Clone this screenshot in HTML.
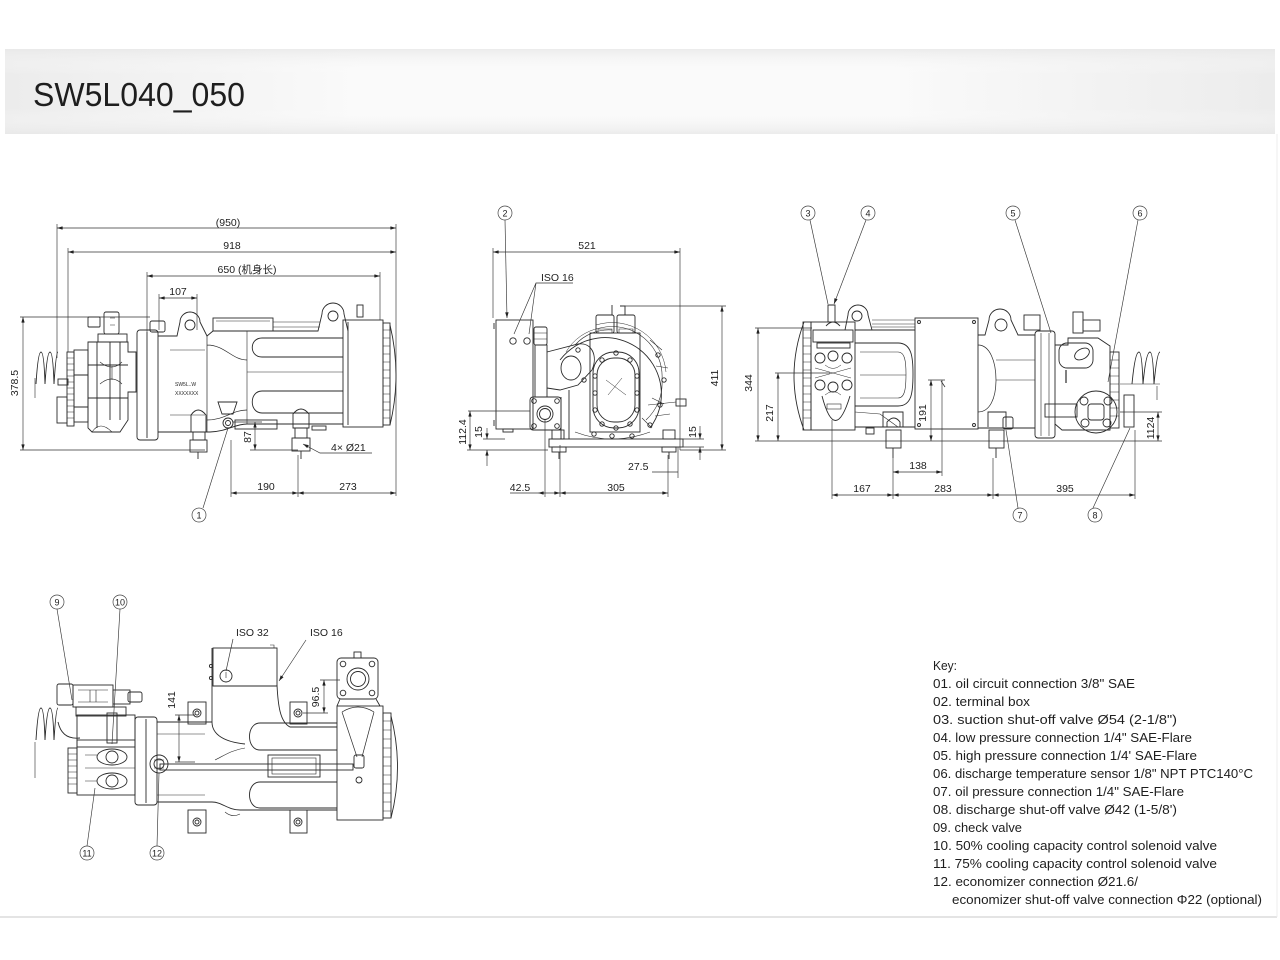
<!DOCTYPE html>
<html><head><meta charset="utf-8">
<style>
html,body{margin:0;padding:0;background:#fff;}
body{width:1280px;height:960px;overflow:hidden;}
svg{display:block;}
.t{font-family:"Liberation Sans","Noto Sans CJK SC",sans-serif;fill:#1e1e1e;}
</style></head>
<body>
<svg width="1280" height="960" viewBox="0 0 1280 960" xmlns="http://www.w3.org/2000/svg">
<defs>
<linearGradient id="hg" x1="0" x2="1" y1="0" y2="0">
<stop offset="0" stop-color="#ececec"/><stop offset="0.28" stop-color="#fafafa"/><stop offset="0.7" stop-color="#fafafa"/><stop offset="1" stop-color="#ececec"/>
</linearGradient>
<linearGradient id="hv" x1="0" x2="0" y1="0" y2="1">
<stop offset="0" stop-color="#e8e8e8" stop-opacity="0.8"/><stop offset="0.3" stop-color="#fff" stop-opacity="0"/><stop offset="0.7" stop-color="#fff" stop-opacity="0"/><stop offset="1" stop-color="#e8e8e8" stop-opacity="0.8"/>
</linearGradient>
<marker id="ar" viewBox="0 0 10 6" refX="10" refY="3" markerWidth="6" markerHeight="3.4" markerUnits="userSpaceOnUse" orient="auto-start-reverse"><path d="M0,0L10,3L0,6z" fill="#222"/></marker>
</defs>

<!-- header -->
<rect x="5" y="49" width="1270" height="85" fill="url(#hg)"/>
<rect x="5" y="49" width="1270" height="85" fill="url(#hv)"/>
<text x="33" y="106" class="t" font-size="33" textLength="212" lengthAdjust="spacingAndGlyphs" fill="#111">SW5L040_050</text>

<!-- page frame -->
<line x1="0" y1="917" x2="1277" y2="917" stroke="#dcdcdc" stroke-width="1.5"/>
<line x1="1277" y1="134" x2="1277" y2="917" stroke="#ececec" stroke-width="1"/>

<!-- ================= LEFT VIEW ================= -->
<g fill="none" stroke="#2a2a2a" stroke-width="0.9">
 <path d="M36,384 Q38,352 41,352 Q44,352 45,384 Q47,352 50,352 Q53,352 54,384 Q56,352 58,352"/>
 <path d="M35,378 V398" stroke-width="0.6"/>
 <rect x="57" y="397" width="10" height="26"/>
 <rect x="58" y="379" width="10" height="6"/>
 <rect x="67" y="352" width="7" height="74"/>
 <path d="M67,358h7M67,364h7M67,370h7M67,376h7M67,382h7M67,388h7M67,394h7M67,400h7M67,406h7M67,412h7M67,418h7" stroke-width="0.6"/>
 <rect x="74" y="350" width="14" height="72"/>
 <path d="M74,375h14M74,407h14"/>
 <path d="M88,342 H128 V352 H136 V392 H128 V420 L120,432 H92 L88,428 Z"/>
 <path d="M97,342V428 M110,342V420 M120,342V420 M88,365H128 M88,398H128"/>
 <path d="M100,362 Q112,372 122,362 M100,384 Q112,374 122,384 M112,366 V380" stroke-width="0.6"/>
 <path d="M92,432 Q100,420 112,432" stroke-width="0.6"/>
 <rect x="88" y="317" width="12" height="10" rx="1"/>
 <rect x="104" y="312" width="15" height="22" rx="2"/>
 <rect x="98" y="334" width="29" height="8"/>
 <path d="M110,318h5M110,325h5" stroke-width="0.6"/>
 <rect x="137" y="330" width="21" height="110" rx="3"/>
 <path d="M147,332V438"/>
 <rect x="150" y="321" width="15" height="11" rx="2"/>
 <path d="M158,336 H177 L180,322 A10,10 0 0 1 200,322 L207,336 L213,331 H318 L322,314 A11,11 0 0 1 344,314 L348,331 V331"/>
 <circle cx="190" cy="325" r="5"/>
 <circle cx="333" cy="316" r="5"/>
 <rect x="357" y="305" width="6" height="12"/>
 <rect x="213" y="318" width="60" height="13"/>
 <path d="M273,322H320 M273,327H320 M216,321H270" stroke-width="0.6"/>
 <path d="M158,432 H210 C225,432 235,424 247,424 H343"/>
 <path d="M207,345 C225,345 232,360 247,360 M207,420 C225,420 232,410 247,410 M207,336 V432" stroke-width="0.7"/>
 <path d="M343,338 H262 C249,338 249,357 262,357 H343"/>
 <path d="M343,391 H262 C249,391 249,413 262,413 H343"/>
 <path d="M247,372 H343 M247,331 V424" stroke-width="0.6"/>
 <path d="M170,350 H205 M170,415 H205" stroke-width="0.5"/>
 <rect x="343" y="320" width="40" height="107"/>
 <path d="M348,322V425"/>
 <rect x="383" y="323" width="7" height="102"/>
 <path d="M383,330h7M383,338h7M383,346h7M383,354h7M383,362h7M383,370h7M383,378h7M383,386h7M383,394h7M383,402h7M383,410h7M383,418h7" stroke-width="0.6"/>
 <path d="M390,325 Q402,375 390,425"/>
 <path d="M191,432 V415 Q198,405 206,415 V432 Z"/>
 <rect x="193" y="432" width="12" height="8"/><rect x="190" y="440" width="17" height="12"/>
 <path d="M198,452V459"/>
 <path d="M293,428 V414 Q301,404 309,414 V428 Z"/>
 <rect x="295" y="428" width="12" height="10"/><rect x="292" y="438" width="18" height="13"/>
 <path d="M301,451V459"/>
 <path d="M218,402 L237,402 L233,414 L222,414 Z"/>
 <circle cx="228" cy="423" r="5"/><circle cx="228" cy="423" r="2.5"/>
 <rect x="235" y="420" width="42" height="9"/>
 <rect x="312" y="426" width="14" height="4"/>
</g>
<text x="175" y="386" class="t" font-size="5">SW5L..W</text>
<text x="175" y="395" class="t" font-size="5">XXXXXXX</text>

<g fill="none" stroke="#333" stroke-width="0.65">
 <line x1="57" y1="228" x2="396" y2="228" marker-start="url(#ar)" marker-end="url(#ar)"/>
 <line x1="68" y1="252" x2="396" y2="252" marker-start="url(#ar)" marker-end="url(#ar)"/>
 <line x1="147" y1="276" x2="380" y2="276" marker-start="url(#ar)" marker-end="url(#ar)"/>
 <line x1="159" y1="298" x2="197" y2="298" marker-start="url(#ar)" marker-end="url(#ar)"/>
 <path d="M57,224V358 M68,248V352 M396,224V496 M380,272V320 M147,272V332 M159,294V330 M197,294V330"/>
 <line x1="23" y1="317" x2="23" y2="450" marker-start="url(#ar)" marker-end="url(#ar)"/>
 <path d="M20,317H150 M20,450H205"/>
 <line x1="255" y1="422" x2="255" y2="450" marker-start="url(#ar)" marker-end="url(#ar)"/>
 <path d="M233,422H262 M250,450H298"/>
 <path d="M303,444 L320,453 H372" marker-start="url(#ar)"/>
 <line x1="231" y1="493" x2="298" y2="493" marker-start="url(#ar)" marker-end="url(#ar)"/>
 <line x1="298" y1="493" x2="396" y2="493" marker-start="url(#ar)" marker-end="url(#ar)"/>
 <path d="M231,440V497 M298,455V497"/>
 <path d="M203,508 L228,428"/>
</g>
<g class="t" font-size="10.5" text-anchor="middle">
 <text x="228" y="226">(950)</text>
 <text x="232" y="249">918</text>
 <text x="247" y="273">650 (机身长)</text>
 <text x="178" y="295">107</text>
 <text transform="translate(18,383) rotate(-90)">378.5</text>
 <text transform="translate(251,437) rotate(-90)">87</text>
 <text x="266" y="490">190</text>
 <text x="348" y="490">273</text>
 <text x="331" y="451" text-anchor="start">4× Ø21</text>
</g>

<!-- ================= MIDDLE VIEW ================= -->
<g fill="none" stroke="#2a2a2a" stroke-width="0.9">
 <path d="M560,360 A56,56 0 1 1 650,428"/>
 <path d="M600,328 A50,50 0 0 1 662,380 A50,50 0 0 1 646,420" stroke-width="0.6"/>
 <path d="M596,325 A54,54 0 0 1 666,372" stroke-width="0.5"/>
 <path d="M575,345 A45,45 0 0 1 612,330" stroke-width="0.6"/>
 <path d="M566,352 A50,50 0 0 1 600,328" stroke-width="0.5"/>
 <path d="M650,340 L662,350 M656,366 L668,368 M652,398 L664,404 M642,418 L652,428" stroke-width="0.6"/>
 <circle cx="658" cy="355" r="2.2"/><circle cx="664" cy="380" r="2.2"/><circle cx="660" cy="405" r="2.2"/><circle cx="650" cy="425" r="2.2"/><circle cx="632" cy="436" r="2.2"/>
 <circle cx="612" cy="436" r="2.2"/><circle cx="594" cy="434" r="2.2"/>
 <rect x="496" y="320" width="37" height="109"/>
 <path d="M494,323v6M494,420v6"/>
 <circle cx="513" cy="341" r="3.2"/><circle cx="527" cy="341" r="3.2"/>
 <rect x="503" y="429" width="10" height="3"/>
 <rect x="534" y="327" width="13" height="18" rx="2"/>
 <path d="M534,333h13M534,339h13" stroke-width="0.6"/>
 <rect x="535" y="345" width="12" height="52"/>
 <path d="M547,352 L578,344 C592,342 598,356 592,370 L578,385 L560,390 L547,388"/>
 <ellipse cx="571" cy="368" rx="10" ry="12"/>
 <circle cx="578" cy="350" r="2.2"/><circle cx="584" cy="380" r="2.2"/>
 <rect x="530" y="397" width="31" height="33" rx="3"/>
 <circle cx="545" cy="414" r="8"/><circle cx="545" cy="414" r="5.5"/>
 <circle cx="534" cy="401" r="2.3"/><circle cx="557" cy="401" r="2.3"/><circle cx="534" cy="426" r="2.3"/><circle cx="557" cy="426" r="2.3"/>
 <path d="M561,397 V439 M569,390 V439"/>
 <rect x="590" y="333" width="50" height="99"/>
 <rect x="593" y="352" width="46" height="76" rx="21"/>
 <rect x="597" y="358" width="38" height="64" rx="17"/>
 <circle cx="616" cy="353" r="2.2"/><circle cx="602" cy="360" r="2.2"/><circle cx="630" cy="360" r="2.2"/><circle cx="595" cy="376" r="2.2"/><circle cx="637" cy="376" r="2.2"/><circle cx="595" cy="393" r="2.2"/><circle cx="637" cy="393" r="2.2"/><circle cx="595" cy="410" r="2.2"/><circle cx="637" cy="410" r="2.2"/><circle cx="602" cy="424" r="2.2"/><circle cx="630" cy="424" r="2.2"/><circle cx="616" cy="428" r="2.2"/>
 <path d="M606,380 L626,395 M608,395 L622,378" stroke-width="0.5"/>
 <rect x="596" y="315" width="18" height="18" rx="2"/>
 <rect x="617" y="315" width="18" height="18" rx="2"/>
 <path d="M598,333v-4h14v4M619,333v-4h14v4" stroke-width="0.6"/>
 <path d="M612,315V305 M620,306h5v9"/>
 <path d="M575,432 Q612,446 650,432" stroke-width="0.6"/>
 <rect x="549" y="439" width="134" height="8"/>
 <rect x="552" y="430" width="12" height="9"/><rect x="663" y="430" width="12" height="9"/>
 <rect x="552" y="447" width="14" height="5"/><rect x="662" y="447" width="14" height="5"/>
 <path d="M559,452V459 M669,452V459"/>
 <rect x="676" y="399" width="10" height="7"/>
 <path d="M648,405 L676,402 M655,416 L670,414" stroke-width="0.6"/>
</g>
<g fill="none" stroke="#333" stroke-width="0.65">
 <line x1="493" y1="252" x2="680" y2="252" marker-start="url(#ar)" marker-end="url(#ar)"/>
 <path d="M493,248V318 M680,248V450"/>
 <path d="M505,220 L507,318" marker-end="url(#ar)"/>
 <path d="M573,283 H536 L514,334 M536,283 L529,334"/>
 <line x1="722" y1="306" x2="722" y2="450" marker-start="url(#ar)" marker-end="url(#ar)"/>
 <path d="M622,306H726 M680,450H726"/>
 <path d="M468,411H530 M467,450H548 M483,439H505"/>
 <line x1="470" y1="411" x2="470" y2="450" marker-start="url(#ar)" marker-end="url(#ar)"/>
 <path d="M487,428 L487,439" marker-end="url(#ar)"/>
 <path d="M487,466 L487,450" marker-end="url(#ar)"/>
 <path d="M700,426 L700,439" marker-end="url(#ar)"/>
 <path d="M700,460 L700,447" marker-end="url(#ar)"/>
 <path d="M683,439H704 M683,447H704"/>
 <path d="M652,472H678 M678,447V478"/>
 <line x1="538" y1="493" x2="560" y2="493" marker-start="url(#ar)" marker-end="url(#ar)"/>
 <line x1="560" y1="493" x2="668" y2="493" marker-start="url(#ar)" marker-end="url(#ar)"/>
 <path d="M510,493H538 M545,420V497 M560,445V497 M668,455V497"/>
</g>
<g class="t" font-size="10.5" text-anchor="middle">
 <text x="587" y="249">521</text>
 <text x="541" y="281" text-anchor="start">ISO 16</text>
 <text transform="translate(718,378) rotate(-90)">411</text>
 <text transform="translate(466,432) rotate(-90)">112.4</text>
 <text transform="translate(482,432) rotate(-90)">15</text>
 <text transform="translate(696,432) rotate(-90)">15</text>
 <text x="628" y="470" text-anchor="start">27.5</text>
 <text x="520" y="491">42.5</text>
 <text x="616" y="491">305</text>
</g>

<!-- ================= RIGHT VIEW ================= -->
<g fill="none" stroke="#2a2a2a" stroke-width="0.9">
 <path d="M804,322 Q784,376 804,430"/>
 <rect x="803" y="322" width="8" height="108"/>
 <path d="M803,330h8M803,338h8M803,346h8M803,354h8M803,362h8M803,370h8M803,378h8M803,386h8M803,394h8M803,402h8M803,410h8M803,418h8" stroke-width="0.6"/>
 <rect x="811" y="322" width="44" height="108"/>
 <rect x="813" y="330" width="40" height="12"/>
 <rect x="817" y="343" width="33" height="5"/>
 <circle cx="820" cy="358" r="5"/><circle cx="833" cy="356" r="5"/><circle cx="847" cy="358" r="5"/>
 <circle cx="820" cy="385" r="5"/><circle cx="833" cy="387" r="5"/><circle cx="847" cy="385" r="5"/>
 <path d="M815,368 L851,378 M815,378 L851,368 M825,365 Q833,372 841,365 M825,395 Q833,388 841,395" stroke-width="0.5"/>
 <path d="M822,396 Q835,445 850,396"/>
 <rect x="827" y="404" width="14" height="5" stroke-width="0.6"/>
 <path d="M828,305 h7 v17 h-7z"/>
 <path d="M826,326 Q833,318 840,326"/>
 <path d="M845,330 L848,315 A10,10 0 0 1 868,315 L872,330"/>
 <circle cx="857" cy="316" r="5"/>
 <path d="M855,330 H915 M855,427 H915"/>
 <path d="M872,320 H915 M872,324 H915 M872,327 H915" stroke-width="0.6"/>
 <path d="M855,343 H898 C912,343 913,358 913,374 C913,392 912,406 898,406 H855"/>
 <path d="M898,352 C905,352 906,362 906,374 C906,388 905,398 898,398" stroke-width="0.6"/>
 <path d="M860,352 H898 M860,398 H898 M860,375 H906" stroke-width="0.5"/>
 <path d="M855,412 L880,414 L898,427" stroke-width="0.6"/>
 <rect x="915" y="318" width="63" height="111"/>
 <circle cx="919" cy="322" r="1.5"/><circle cx="974" cy="322" r="1.5"/><circle cx="919" cy="425" r="1.5"/><circle cx="974" cy="425" r="1.5"/>
 <path d="M978,335 H985 L989,320 A11,11 0 0 1 1011,320 L1018,335 H1035 M978,428 H1035"/>
 <circle cx="1001" cy="325" r="6"/>
 <path d="M978,345 C990,345 996,362 996,380 C996,398 990,412 978,412" stroke-width="0.7"/>
 <path d="M996,380 H1035 M996,360 H1035" stroke-width="0.5"/>
 <rect x="1024" y="315" width="16" height="15"/>
 <rect x="1035" y="331" width="20" height="107" rx="3"/>
 <path d="M1041,333V436 M1049,333V436" stroke-width="0.6"/>
 <path d="M1055,345 H1068 V338 H1098 L1110,346 V430 H1062 L1055,424"/>
 <rect x="1073" y="312" width="10" height="21"/>
 <rect x="1083" y="320" width="17" height="11"/>
 <rect x="1059" y="343" width="34" height="25" rx="8"/>
 <ellipse cx="1082" cy="354" rx="8" ry="5" transform="rotate(-30 1082 354)"/>
 <path d="M1066,370 L1066,383" stroke-width="1.2"/>
 <circle cx="1096" cy="412" r="21"/>
 <circle cx="1084" cy="401" r="4"/><circle cx="1108" cy="401" r="4"/><circle cx="1085" cy="423" r="4"/><circle cx="1107" cy="423" r="4"/>
 <rect x="1088" y="404" width="16" height="16" rx="3"/>
 <rect x="1045" y="404" width="32" height="13"/>
 <rect x="1110" y="352" width="9" height="76"/>
 <path d="M1110,360h9M1110,368h9M1110,376h9M1110,384h9M1110,392h9M1110,400h9M1110,408h9M1110,416h9" stroke-width="0.6"/>
 <rect x="1124" y="395" width="10" height="32"/>
 <path d="M1132,384 Q1135,352 1139,352 Q1142,352 1143,384 Q1146,352 1150,352 Q1153,352 1154,384 Q1157,352 1160,352"/>
 <path d="M1120,384 H1160 M1157,386 V400" stroke-width="0.6"/>
 <path d="M883,427 V412 H903 V427"/>
 <path d="M887,427 V422 Q894,414 900,422 V427"/>
 <rect x="886" y="430" width="15" height="18"/>
 <path d="M893,448V458"/>
 <path d="M988,427 V412 H1006 V427"/>
 <rect x="989" y="430" width="15" height="18"/>
 <path d="M996,448V458"/>
 <rect x="1003" y="417" width="10" height="12" rx="2"/>
 <rect x="866" y="428" width="8" height="6"/>
</g>
<g fill="none" stroke="#333" stroke-width="0.65">
 <path d="M810,220 L828,304"/>
 <path d="M866,220 L834,304" marker-end="url(#ar)"/>
 <path d="M1015,220 L1051,333 M1138,220 L1108,382 M1018,508 L1006,430 M1093,508 L1130,428"/>
 <line x1="758" y1="328" x2="758" y2="441" marker-start="url(#ar)" marker-end="url(#ar)"/>
 <line x1="778" y1="373" x2="778" y2="441" marker-start="url(#ar)" marker-end="url(#ar)"/>
 <path d="M755,328H812 M775,373H830 M755,441H1162"/>
 <line x1="931" y1="380" x2="931" y2="441" marker-start="url(#ar)" marker-end="url(#ar)"/>
 <path d="M928,380H945 M942,380V476"/>
 <path d="M945,387 L941,381" stroke-width="0.8"/>
 <line x1="893" y1="472" x2="942" y2="472" marker-start="url(#ar)" marker-end="url(#ar)"/>
 <line x1="832" y1="495" x2="893" y2="495" marker-start="url(#ar)" marker-end="url(#ar)"/>
 <line x1="893" y1="495" x2="993" y2="495" marker-start="url(#ar)" marker-end="url(#ar)"/>
 <line x1="993" y1="495" x2="1135" y2="495" marker-start="url(#ar)" marker-end="url(#ar)"/>
 <path d="M832,420V499 M893,458V499 M993,458V499 M1135,430V499"/>
 <line x1="1158" y1="412" x2="1158" y2="441" marker-start="url(#ar)" marker-end="url(#ar)"/>
 <path d="M1120,412H1162"/>
</g>
<g class="t" font-size="10.5" text-anchor="middle">
 <text transform="translate(752,383) rotate(-90)">344</text>
 <text transform="translate(773,413) rotate(-90)">217</text>
 <text transform="translate(926,413) rotate(-90)">191</text>
 <text x="918" y="469">138</text>
 <text x="862" y="492">167</text>
 <text x="943" y="492">283</text>
 <text x="1065" y="492">395</text>
 <text transform="translate(1154,428) rotate(-90)">1124</text>
</g>

<!-- ================= BOTTOM VIEW ================= -->
<g fill="none" stroke="#2a2a2a" stroke-width="0.9">
 <path d="M36,740 Q38,708 41,708 Q44,708 45,740 Q47,708 50,708 Q53,708 54,740 Q56,708 58,708"/>
 <path d="M35,742 V778" stroke-width="0.6"/>
 <path d="M58,722 Q62,740 80,738"/>
 <rect x="57" y="684" width="16" height="21" rx="2"/>
 <rect x="73" y="685" width="40" height="22"/>
 <path d="M78,690h30M78,702h30M90,690v12M96,690v12" stroke-width="0.6"/>
 <rect x="113" y="690" width="17" height="14"/>
 <rect x="128" y="692" width="14" height="10" rx="2"/>
 <rect x="76" y="707" width="50" height="9"/>
 <rect x="77" y="715" width="58" height="32"/>
 <rect x="107" y="713" width="10" height="30"/>
 <rect x="68" y="748" width="9" height="45"/>
 <path d="M68,754h9M68,760h9M68,766h9M68,772h9M68,778h9M68,784h9" stroke-width="0.6"/>
 <rect x="77" y="740" width="58" height="55"/>
 <ellipse cx="112" cy="757" rx="15" ry="8"/><circle cx="112" cy="757" r="6"/>
 <ellipse cx="112" cy="781" rx="15" ry="8"/><circle cx="112" cy="781" r="6"/>
 <path d="M85,755 H97 M85,781 H97 M85,768 H135" stroke-width="0.6"/>
 <rect x="135" y="717" width="22" height="88" rx="3"/>
 <path d="M146,719V803"/>
 <circle cx="159" cy="764" r="9"/><circle cx="159" cy="764" r="5"/>
 <path d="M154,760h10M154,768h10" stroke-width="0.6"/>
 <path d="M157,722 H212 M157,802 H212 C222,802 228,810 240,810 H337"/>
 <path d="M212,648 V722 C212,735 225,742 245,744 M277,685 C278,705 280,722 290,727 H337"/>
 <path d="M157,734 H205 M157,795 H205" stroke-width="0.5"/>
 <path d="M215,760 C225,755 232,750 245,748" stroke-width="0.6"/>
 <path d="M337,723 H260 C246,723 246,750 260,750 H337"/>
 <path d="M337,782 H260 C246,782 246,808 260,808 H337"/>
 <rect x="160" y="764" width="193" height="6"/>
 <rect x="268" y="755" width="52" height="22"/>
 <rect x="272" y="758" width="44" height="16" stroke-width="0.6"/>
 <rect x="213" y="648" width="64" height="38"/>
 <path d="M213,686 H277"/>
 <circle cx="226" cy="676" r="6"/><path d="M226,672v6" stroke-width="0.6"/>
 <circle cx="211" cy="666" r="1.6"/><circle cx="211" cy="678" r="1.6"/>
 <path d="M270,645h4v3" stroke-width="0.6"/>
 <rect x="337" y="658" width="41" height="41" rx="4"/>
 <circle cx="358" cy="679" r="11"/><circle cx="358" cy="679" r="7.5"/>
 <circle cx="343" cy="664" r="2.8"/><circle cx="372" cy="664" r="2.8"/><circle cx="343" cy="693" r="2.8"/><circle cx="372" cy="693" r="2.8"/>
 <rect x="354" y="652" width="7" height="6"/>
 <path d="M340,699 L337,706 M376,699 L380,706"/>
 <rect x="337" y="706" width="46" height="114"/>
 <path d="M342,712 L357,757 M374,712 L362,757 M342,712 Q358,702 374,712" stroke-width="0.7"/>
 <rect x="354" y="755" width="10" height="13" rx="2"/>
 <circle cx="359" cy="780" r="3"/>
 <rect x="383" y="713" width="8" height="105"/>
 <path d="M383,721h8M383,730h8M383,739h8M383,748h8M383,757h8M383,766h8M383,775h8M383,784h8M383,793h8M383,802h8M383,811h8" stroke-width="0.6"/>
 <path d="M391,716 Q404,767 391,818"/>
 <rect x="188" y="702" width="18" height="22"/><circle cx="197" cy="713" r="4"/><circle cx="197" cy="713" r="2"/>
 <rect x="290" y="702" width="17" height="22"/><circle cx="298" cy="713" r="4"/><circle cx="298" cy="713" r="2"/>
 <rect x="188" y="810" width="18" height="23"/><circle cx="197" cy="822" r="4"/><circle cx="197" cy="822" r="2"/>
 <rect x="290" y="810" width="17" height="23"/><circle cx="298" cy="822" r="4"/><circle cx="298" cy="822" r="2"/>
 <path d="M225,812 Q232,818 240,814" stroke-width="0.6"/>
</g>
<g fill="none" stroke="#333" stroke-width="0.65">
 <path d="M57,609 L72,700 M120,609 L112,744 M87,846 L95,788 M157,846 L159,773"/>
 <path d="M233,639 L226,671"/>
 <path d="M306,640 L279,681" marker-end="url(#ar)"/>
 <line x1="179" y1="715" x2="179" y2="762" marker-start="url(#ar)" marker-end="url(#ar)"/>
 <path d="M175,715H195 M175,762H195"/>
 <line x1="324" y1="680" x2="324" y2="713" marker-start="url(#ar)" marker-end="url(#ar)"/>
 <path d="M320,680H340 M303,713H328"/>
</g>
<g class="t" font-size="10.5" text-anchor="middle">
 <text x="236" y="636" text-anchor="start">ISO 32</text>
 <text x="310" y="636" text-anchor="start">ISO 16</text>
 <text transform="translate(175,700) rotate(-90)">141</text>
 <text transform="translate(319,697) rotate(-90)">96.5</text>
</g>

<!-- balloons -->
<g fill="#fff" stroke="#444" stroke-width="0.7">
 <circle cx="199" cy="515" r="7"/><circle cx="505" cy="213" r="7"/><circle cx="808" cy="213" r="7"/><circle cx="868" cy="213" r="7"/>
 <circle cx="1013" cy="213" r="7"/><circle cx="1140" cy="213" r="7"/><circle cx="1020" cy="515" r="7"/><circle cx="1095" cy="515" r="7"/>
 <circle cx="57" cy="602" r="7"/><circle cx="120" cy="602" r="7"/><circle cx="87" cy="853" r="7"/><circle cx="157" cy="853" r="7"/>
</g>
<g class="t" font-size="9" text-anchor="middle">
 <text x="199" y="518.5">1</text><text x="505" y="216.5">2</text><text x="808" y="216.5">3</text><text x="868" y="216.5">4</text>
 <text x="1013" y="216.5">5</text><text x="1140" y="216.5">6</text><text x="1020" y="518.5">7</text><text x="1095" y="518.5">8</text>
 <text x="57" y="605.5">9</text><text x="120" y="605.5">10</text><text x="87" y="856.5">11</text><text x="157" y="856.5">12</text>
</g>

<!-- key -->
<g class="t" font-size="12.5" fill="#222">
 <text x="933" y="670" textLength="24" lengthAdjust="spacingAndGlyphs">Key:</text>
 <text x="933" y="688" textLength="202" lengthAdjust="spacingAndGlyphs">01. oil circuit connection 3/8" SAE</text>
 <text x="933" y="706" textLength="97" lengthAdjust="spacingAndGlyphs">02. terminal box</text>
 <text x="933" y="724" textLength="244" lengthAdjust="spacingAndGlyphs">03. suction shut-off valve Ø54 (2-1/8")</text>
 <text x="933" y="742" textLength="259" lengthAdjust="spacingAndGlyphs">04. low pressure connection 1/4" SAE-Flare</text>
 <text x="933" y="760" textLength="264" lengthAdjust="spacingAndGlyphs">05. high pressure connection 1/4' SAE-Flare</text>
 <text x="933" y="778" textLength="320" lengthAdjust="spacingAndGlyphs">06. discharge temperature sensor 1/8" NPT PTC140°C</text>
 <text x="933" y="796" textLength="251" lengthAdjust="spacingAndGlyphs">07. oil pressure connection 1/4" SAE-Flare</text>
 <text x="933" y="814" textLength="244" lengthAdjust="spacingAndGlyphs">08. discharge shut-off valve Ø42 (1-5/8')</text>
 <text x="933" y="832" textLength="89" lengthAdjust="spacingAndGlyphs">09. check valve</text>
 <text x="933" y="850" textLength="284" lengthAdjust="spacingAndGlyphs">10. 50% cooling capacity control solenoid valve</text>
 <text x="933" y="868" textLength="284" lengthAdjust="spacingAndGlyphs">11. 75% cooling capacity control solenoid valve</text>
 <text x="933" y="886" textLength="205" lengthAdjust="spacingAndGlyphs">12. economizer connection Ø21.6/</text>
 <text x="952" y="904" textLength="310" lengthAdjust="spacingAndGlyphs">economizer shut-off valve connection Φ22 (optional)</text>
</g>
</svg>
</body></html>
